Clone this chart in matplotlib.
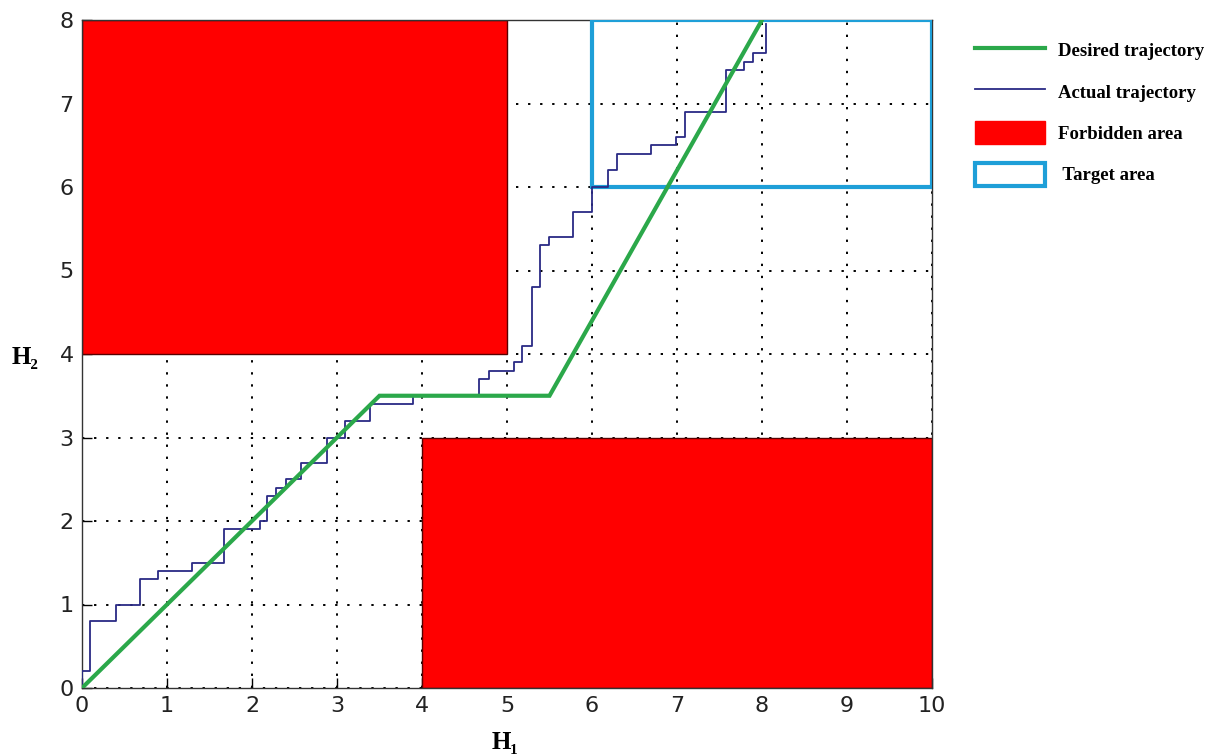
import matplotlib
matplotlib.use("Agg")
import matplotlib.pyplot as plt
from matplotlib.patches import Rectangle
from matplotlib.lines import Line2D

# ---- data ----
desired_x = [0, 3.5, 5.5, 8]
desired_y = [0, 3.5, 3.5, 8]

# actual trajectory (staircase vertices)
actual_x = [0, 0, 0.09, 0.09, 0.40, 0.40, 0.68, 0.68, 0.89, 0.89, 1.29, 1.29,
            1.67, 1.67, 2.09, 2.09, 2.18, 2.18, 2.28, 2.28, 2.40, 2.40, 2.58, 2.58,
            2.88, 2.88, 3.09, 3.09, 3.39, 3.39, 3.89, 3.89, 4.67, 4.67, 4.79, 4.79,
            5.08, 5.08, 5.18, 5.18, 5.29, 5.29, 5.39, 5.39, 5.49, 5.49, 5.78, 5.78,
            6.0, 6.0, 6.19, 6.19, 6.29, 6.29, 6.69, 6.69, 6.99, 6.99, 7.09, 7.09,
            7.58, 7.58, 7.79, 7.79, 7.89, 7.89, 8.05, 8.05]
actual_y = [0, 0.2, 0.2, 0.8, 0.8, 1.0, 1.0, 1.3, 1.3, 1.4, 1.4, 1.5,
            1.5, 1.9, 1.9, 2.0, 2.0, 2.3, 2.3, 2.4, 2.4, 2.5, 2.5, 2.7,
            2.7, 3.0, 3.0, 3.2, 3.2, 3.4, 3.4, 3.5, 3.5, 3.7, 3.7, 3.8,
            3.8, 3.9, 3.9, 4.1, 4.1, 4.8, 4.8, 5.3, 5.3, 5.4, 5.4, 5.7,
            5.7, 6.0, 6.0, 6.2, 6.2, 6.4, 6.4, 6.5, 6.5, 6.6, 6.6, 6.9,
            6.9, 7.4, 7.4, 7.5, 7.5, 7.6, 7.6, 7.95]

# forbidden areas: (x0, y0, width, height)
forbidden = [(0, 4, 5, 4), (4, 0, 6, 3)]
# target area
target = (6, 6, 4, 2)

x_ticks = list(range(0, 11))
y_ticks = list(range(0, 9))

legend_labels = ["Desired trajectory", "Actual trajectory", "Forbidden area", " Target area"]

# ---- style ----
green = "#2BA84A"
navy = "#2A2A85"
red = "#FF0000"
cyan = "#1E9FD8"

fig = plt.figure(figsize=(12.27, 7.55), dpi=100)
ax = fig.add_axes([82 / 1227, 1 - 688 / 755, (932 - 82) / 1227, (688 - 20) / 755])

for (x0, y0, w, h) in forbidden:
    ax.add_patch(Rectangle((x0, y0), w, h, facecolor=red, edgecolor="#5a0000",
                           linewidth=1.0, zorder=2))
ax.add_patch(Rectangle(target[:2], target[2], target[3], facecolor="none",
                       edgecolor=cyan, linewidth=3.0, zorder=3))

ax.plot(actual_x, actual_y, color=navy, linewidth=1.3, zorder=4)
ax.plot(desired_x, desired_y, color=green, linewidth=3.0, zorder=5,
        solid_joinstyle="miter")

ax.set_xlim(0, 10)
ax.set_ylim(0, 8)
ax.set_xticks(x_ticks)
ax.set_yticks(y_ticks)
ax.grid(True, color="black", linestyle=(0, (1.2, 5)), linewidth=1.4, zorder=1)
ax.set_axisbelow(True)
ax.tick_params(direction="in", length=7, width=1, labelsize=16, pad=6,
               top=False, right=False, labelcolor="#222222")
for s in ax.spines.values():
    s.set_linewidth(1.0)
    s.set_color("#333333")

serif = ["Liberation Serif", "DejaVu Serif"]
fig.text(505 / 1227, 1 - 742 / 755, "H\u2081", fontsize=18, fontweight="bold",
         family=serif, ha="center", va="center")
fig.text(25 / 1227, 1 - 357 / 755, "H\u2082", fontsize=18, fontweight="bold",
         family=serif, ha="center", va="center")

handles = [
    Line2D([], [], color=green, linewidth=3.0),
    Line2D([], [], color=navy, linewidth=1.3),
    Rectangle((0, 0), 1, 1, facecolor=red, edgecolor=red),
    Rectangle((0, 0), 1, 1, facecolor="white", edgecolor=cyan, linewidth=3.0),
]
leg = fig.legend(handles, legend_labels, loc="upper left",
                 bbox_to_anchor=(958 / 1227, 1 - 22 / 755), frameon=False,
                 handlelength=3.75, handleheight=1.5, handletextpad=0.7,
                 labelspacing=0.98, borderpad=0.4,
                 prop={"family": serif, "weight": "bold", "size": 13.5})

fig.savefig("out.png", dpi=100)
